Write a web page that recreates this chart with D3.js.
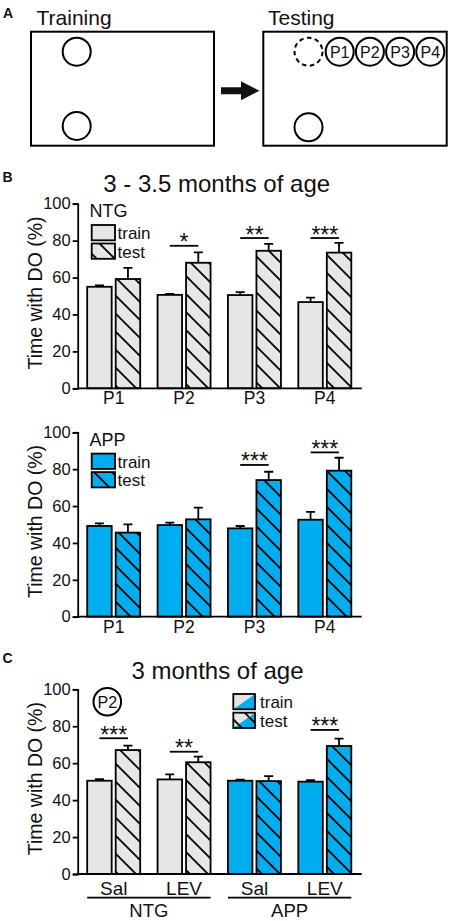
<!DOCTYPE html>
<html><head><meta charset="utf-8">
<script src="https://cdn.jsdelivr.net/npm/d3@7"></script>
<style>
body{margin:0;background:#fff}
text{font-family:"Liberation Sans",Arial,Helvetica,sans-serif;fill:#111}
</style>
</head><body>
<svg id="c" width="450" height="921"></svg>
<script>
// ---------------- DATA ----------------
const seriesNames = ["train", "test"];
const yTicks = [0, 20, 40, 60, 80, 100];

const positions = ["P1", "P2", "P3", "P4"];
const ntgTrain    = [55.0, 50.6, 50.5, 46.7];
const ntgTrainErr = [0.8, 0.6, 1.6, 2.4];
const ntgTest     = [59.2, 68.0, 74.5, 73.5];
const ntgTestErr  = [6.0, 5.6, 3.7, 5.3];
const ntgSig      = [null, "*", "**", "***"];
const ntgSigLevel = [null, 77.2, 81.4, 81.4];

const appTrain    = [49.2, 49.7, 47.9, 52.6];
const appTrainErr = [1.4, 1.3, 1.3, 4.2];
const appTest     = [45.6, 52.8, 74.1, 79.2];
const appTestErr  = [4.5, 6.3, 4.5, 7.0];
const appSig      = [null, null, "***", "***"];
const appSigLevel = [null, null, 82.3, 89.1];

const groupsC     = ["NTG-Sal", "NTG-LEV", "APP-Sal", "APP-LEV"];
const treatLabels = ["Sal", "LEV", "Sal", "LEV"];
const genotypeC   = ["NTG", "NTG", "APP", "APP"];
const cTrain      = [50.5, 51.2, 50.5, 50.0];
const cTrainErr   = [0.8, 2.7, 0.6, 0.8];
const cTest       = [67.1, 60.5, 50.3, 69.3];
const cTestErr    = [2.4, 3.0, 2.7, 4.0];
const cSig        = ["***", "**", null, "***"];
const cSigLevel   = [73.5, 66.2, null, 78.0];

const genotypes   = ["NTG", "APP"];
const testPositionsA = ["P1", "P2", "P3", "P4"];

// ---------------- STYLE ----------------
const GRAY = "#e6e6e6", BLUE = "#00aeef";
const SW = 1.8;
const svg = d3.select("#c");
svg.append("rect").attr("width", 450).attr("height", 921).attr("fill", "#fff");
const defs = svg.append("defs");
function hatch(id, bg) {
  const p = defs.append("pattern").attr("id", id).attr("patternUnits", "userSpaceOnUse")
    .attr("width", 18).attr("height", 18);
  p.append("rect").attr("width", 18).attr("height", 18).attr("fill", bg);
  p.append("path").attr("d", "M0,0L18,18M-3,15L3,21M15,-3L21,3")
    .attr("stroke", "#000").attr("stroke-width", 1.8).attr("fill", "none");
}
hatch("hG", GRAY); hatch("hB", BLUE);

function panelLabel(t, x, y) {
  svg.append("text").attr("x", x).attr("y", y).attr("font-size", 14).attr("font-weight", "bold").text(t);
}

// ---------------- PANEL A ----------------
panelLabel("A", 3, 18);
const gA = svg.append("g");
gA.append("text").attr("x", 36.5).attr("y", 25).attr("font-size", 21).text("Training");
gA.append("text").attr("x", 268).attr("y", 25).attr("font-size", 21).text("Testing");
gA.append("rect").attr("x", 31).attr("y", 31.7).attr("width", 183).attr("height", 114)
  .attr("fill", "none").attr("stroke", "#000").attr("stroke-width", 2);
gA.append("rect").attr("x", 263.3).attr("y", 31.7).attr("width", 183.4).attr("height", 114)
  .attr("fill", "none").attr("stroke", "#000").attr("stroke-width", 2);
[[76.7, 51.7], [76.7, 126]].forEach(c =>
  gA.append("circle").attr("cx", c[0]).attr("cy", c[1]).attr("r", 14)
    .attr("fill", "none").attr("stroke", "#000").attr("stroke-width", 2));
gA.append("circle").attr("cx", 308.5).attr("cy", 51.7).attr("r", 14)
  .attr("fill", "none").attr("stroke", "#000").attr("stroke-width", 2).attr("stroke-dasharray", "4.5,3.5");
gA.append("circle").attr("cx", 308.5).attr("cy", 127.3).attr("r", 14)
  .attr("fill", "none").attr("stroke", "#000").attr("stroke-width", 2);
testPositionsA.forEach((p, i) => {
  const cx = 339.7 + i * 30.2;
  gA.append("circle").attr("cx", cx).attr("cy", 51.7).attr("r", 14)
    .attr("fill", "none").attr("stroke", "#000").attr("stroke-width", 2);
  gA.append("text").attr("x", cx).attr("y", 57.5).attr("text-anchor", "middle").attr("font-size", 16).text(p);
});
gA.append("path").attr("d", "M221,87.2H241V81.2L259.5,90.7L241,100.2V94.2H221Z").attr("fill", "#111");

// ---------------- BAR CHART ----------------
function barChart(o) {
  const g = svg.append("g");
  const y = d3.scaleLinear().domain([0, 100]).range([o.yBottom, o.yTop]);
  const x = d3.scaleBand().domain(o.cats).range([78.5, 360]);
  const inner = 53;
  const x1 = d3.scaleBand().domain(seriesNames).range([0, inner]).paddingInner(0.1404);
  const off = (x.bandwidth() - inner) / 2;
  const bw = x1.bandwidth();
  const rows = [];
  o.cats.forEach((c, i) => {
    rows.push({ c, i, s: "train", v: o.train[i], e: o.trainErr[i] });
    rows.push({ c, i, s: "test", v: o.test[i], e: o.testErr[i] });
  });
  const bx = d => x(d.c) + off + x1(d.s);

  // error bars
  g.selectAll("path.err").data(rows).join("path").attr("class", "err")
    .attr("d", d => {
      const cx = bx(d) + bw / 2, t = y(d.v + d.e);
      return `M${cx},${y(d.v)}V${t}M${cx - 4.5},${t}H${cx + 4.5}`;
    })
    .attr("stroke", "#000").attr("stroke-width", SW).attr("fill", "none");
  // bars
  g.selectAll("rect.bar").data(rows).join("rect").attr("class", "bar")
    .attr("x", bx).attr("y", d => y(d.v)).attr("width", bw).attr("height", d => y(0) - y(d.v))
    .attr("fill", d => o.fill(d)).attr("stroke", "#000").attr("stroke-width", SW);

  // significance
  o.cats.forEach((c, i) => {
    if (!o.sig[i]) return;
    const xa = x(c) + off + x1("train") + bw / 2;
    const xb = x(c) + off + x1("test") + bw / 2;
    const ly = y(o.sigLevel[i]);
    g.append("line").attr("x1", xa).attr("x2", xb).attr("y1", ly).attr("y2", ly)
      .attr("stroke", "#000").attr("stroke-width", SW);
    g.append("text").attr("x", (xa + xb) / 2).attr("y", ly + 4.5).attr("text-anchor", "middle")
      .attr("font-size", 23).text(o.sig[i]);
  });

  // axes
  const ya = g.append("g").attr("transform", "translate(77.7,0)")
    .call(d3.axisLeft(y).tickValues(yTicks).tickSize(5).tickSizeOuter(5).tickPadding(2));
  ya.selectAll("path,line").attr("stroke", "#000").attr("stroke-width", SW);
  ya.selectAll("text").attr("font-size", 16.5).attr("font-family", '"Liberation Sans",Arial,sans-serif').attr("fill", "#111");
  const xa = g.append("g").attr("transform", `translate(0,${o.yBottom})`)
    .call(d3.axisBottom(x).tickSize(0).tickSizeOuter(0).tickPadding(o.xPad).tickFormat((d, i) => o.xLabels[i]));
  xa.select(".domain").attr("d", "M77.7,0H361.7");
  xa.selectAll("path,line").attr("stroke", "#000").attr("stroke-width", SW);
  xa.selectAll("text").attr("font-size", o.xFont).attr("font-family", '"Liberation Sans",Arial,sans-serif').attr("fill", "#111");

  // y label
  g.append("text").attr("transform", `translate(41.5,${(o.yTop + o.yBottom) / 2 - 3}) rotate(-90)`)
    .attr("text-anchor", "middle").attr("font-size", 19.5).text("Time with DO (%)");
  return { g, x, y, off, bw, x1 };
}

function legendB(g, top, header, fill, hatchId) {
  g.append("text").attr("x", 89.5).attr("y", top + 13.5).attr("font-size", 18).text(header);
  seriesNames.forEach((s, i) => {
    const yy = top + 21.3 + i * 18.5;
    g.append("rect").attr("x", 91.7).attr("y", yy).attr("width", 23.3).attr("height", 15.3)
      .attr("fill", s === "train" ? fill : `url(#${hatchId})`).attr("stroke", "#000").attr("stroke-width", SW);
    g.append("text").attr("x", 117.5).attr("y", yy + 14).attr("font-size", 17).text(s);
  });
}

// ---------------- PANEL B ----------------
panelLabel("B", 2.5, 181.7);
svg.append("text").attr("x", 216.7).attr("y", 191.7).attr("text-anchor", "middle").attr("font-size", 24).text("3 - 3.5 months of age");

const b1 = barChart({
  yTop: 203.7, yBottom: 388.3, cats: positions, xLabels: positions, xPad: 3.5, xFont: 17.5,
  train: ntgTrain, trainErr: ntgTrainErr, test: ntgTest, testErr: ntgTestErr,
  sig: ntgSig, sigLevel: ntgSigLevel,
  fill: d => d.s === "train" ? GRAY : "url(#hG)"
});
legendB(b1.g, 203.7, genotypes[0], GRAY, "hG");

const b2 = barChart({
  yTop: 432.3, yBottom: 616.7, cats: positions, xLabels: positions, xPad: 3.5, xFont: 17.5,
  train: appTrain, trainErr: appTrainErr, test: appTest, testErr: appTestErr,
  sig: appSig, sigLevel: appSigLevel,
  fill: d => d.s === "train" ? BLUE : "url(#hB)"
});
legendB(b2.g, 432.3, genotypes[1], BLUE, "hB");

// ---------------- PANEL C ----------------
panelLabel("C", 2.5, 663.3);
svg.append("text").attr("x", 217.5).attr("y", 679.3).attr("text-anchor", "middle").attr("font-size", 24).text("3 months of age");

const c1 = barChart({
  yTop: 689.3, yBottom: 874, cats: groupsC, xLabels: treatLabels, xPad: 7.5, xFont: 19,
  train: cTrain, trainErr: cTrainErr, test: cTest, testErr: cTestErr,
  sig: cSig, sigLevel: cSigLevel,
  fill: d => {
    const isNtg = genotypeC[d.i] === "NTG";
    return d.s === "train" ? (isNtg ? GRAY : BLUE) : (isNtg ? "url(#hG)" : "url(#hB)");
  }
});
// genotype group lines
genotypes.forEach(gt => {
  const idx = genotypeC.map((v, i) => v === gt ? i : -1).filter(i => i >= 0);
  const xl = c1.x(groupsC[idx[0]]) + c1.off;
  const xr = c1.x(groupsC[idx[idx.length - 1]]) + c1.off + 53;
  c1.g.append("line").attr("x1", xl).attr("x2", xr).attr("y1", 897.7).attr("y2", 897.7)
    .attr("stroke", "#000").attr("stroke-width", SW);
  c1.g.append("text").attr("x", (xl + xr) / 2).attr("y", 917.3).attr("text-anchor", "middle")
    .attr("font-size", 18.5).text(gt);
});
// P2 marker
c1.g.append("circle").attr("cx", 107.3).attr("cy", 701.7).attr("r", 13.8)
  .attr("fill", "none").attr("stroke", "#000").attr("stroke-width", 2);
c1.g.append("text").attr("x", 107.3).attr("y", 707.5).attr("text-anchor", "middle").attr("font-size", 16).text("P2");
// split legend
seriesNames.forEach((s, i) => {
  const x0 = 233.3, w = 21.7, h = 15.3, y0 = 694 + i * 18.7;
  c1.g.append("path").attr("d", `M${x0},${y0}H${x0 + w}L${x0},${y0 + h}Z`)
    .attr("fill", s === "train" ? GRAY : "url(#hG)");
  c1.g.append("path").attr("d", `M${x0 + w},${y0}V${y0 + h}H${x0}Z`)
    .attr("fill", s === "train" ? BLUE : "url(#hB)");
  c1.g.append("rect").attr("x", x0).attr("y", y0).attr("width", w).attr("height", h)
    .attr("fill", "none").attr("stroke", "#000").attr("stroke-width", SW);
  c1.g.append("text").attr("x", 260).attr("y", y0 + 13.8).attr("font-size", 17).text(s);
});
</script>
</body></html>
